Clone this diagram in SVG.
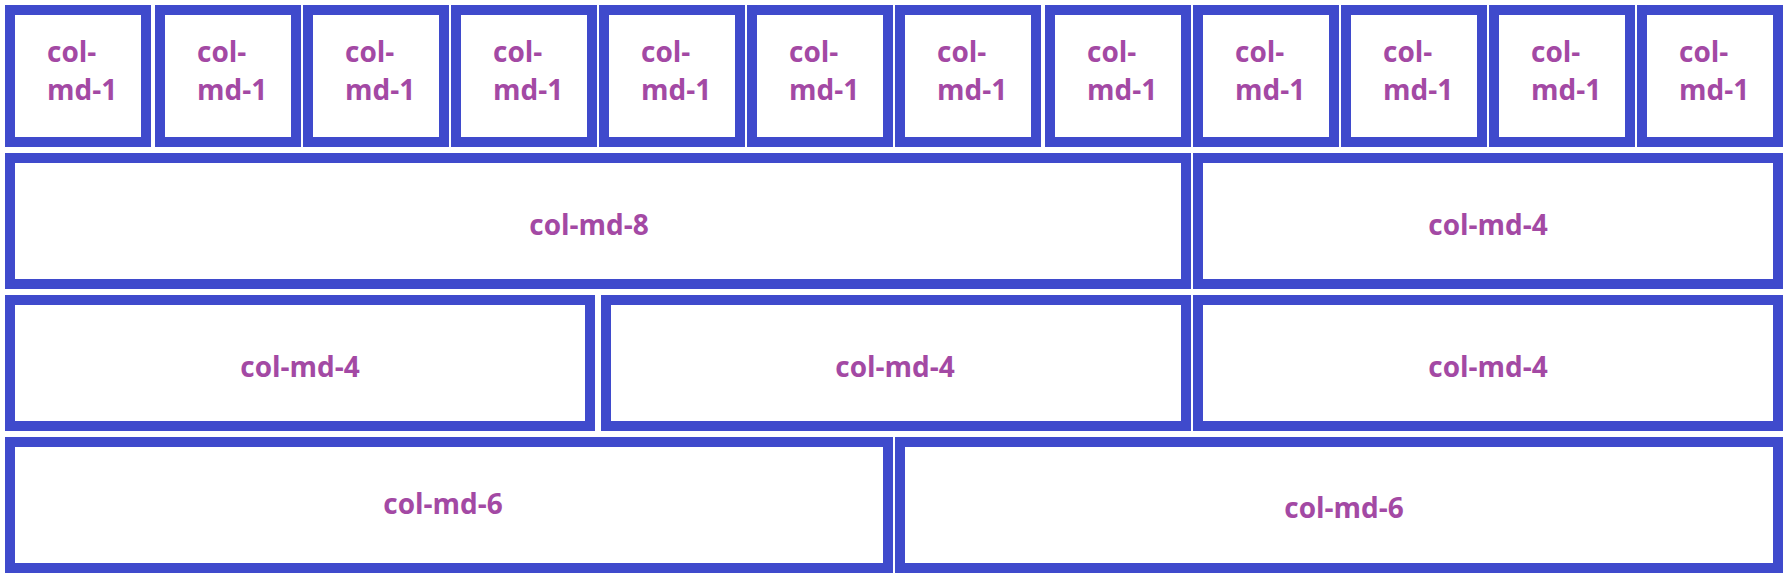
<svg xmlns="http://www.w3.org/2000/svg" width="1787" height="577" viewBox="0 0 1787 577">
<style>
.b{fill:#ffffff;stroke:#3f4acc;stroke-width:10}
.t{font-family:"Open Sans","Liberation Sans",sans-serif;font-weight:700;font-size:28px;fill:#a349a4}
.c{text-anchor:middle}
</style>
<rect width="1787" height="577" fill="#ffffff"/>
<g id="r1c1"><rect class="b" x="10" y="10" width="136" height="132"/><text class="t" x="47" y="62">col-</text><text class="t" x="47" y="100">md-1</text></g>
<g id="r1c2"><rect class="b" x="160" y="10" width="136" height="132"/><text class="t" x="197" y="62">col-</text><text class="t" x="197" y="100">md-1</text></g>
<g id="r1c3"><rect class="b" x="308" y="10" width="136" height="132"/><text class="t" x="345" y="62">col-</text><text class="t" x="345" y="100">md-1</text></g>
<g id="r1c4"><rect class="b" x="456" y="10" width="136" height="132"/><text class="t" x="493" y="62">col-</text><text class="t" x="493" y="100">md-1</text></g>
<g id="r1c5"><rect class="b" x="604" y="10" width="136" height="132"/><text class="t" x="641" y="62">col-</text><text class="t" x="641" y="100">md-1</text></g>
<g id="r1c6"><rect class="b" x="752" y="10" width="136" height="132"/><text class="t" x="789" y="62">col-</text><text class="t" x="789" y="100">md-1</text></g>
<g id="r1c7"><rect class="b" x="900" y="10" width="136" height="132"/><text class="t" x="937" y="62">col-</text><text class="t" x="937" y="100">md-1</text></g>
<g id="r1c8"><rect class="b" x="1050" y="10" width="136" height="132"/><text class="t" x="1087" y="62">col-</text><text class="t" x="1087" y="100">md-1</text></g>
<g id="r1c9"><rect class="b" x="1198" y="10" width="136" height="132"/><text class="t" x="1235" y="62">col-</text><text class="t" x="1235" y="100">md-1</text></g>
<g id="r1c10"><rect class="b" x="1346" y="10" width="136" height="132"/><text class="t" x="1383" y="62">col-</text><text class="t" x="1383" y="100">md-1</text></g>
<g id="r1c11"><rect class="b" x="1494" y="10" width="136" height="132"/><text class="t" x="1531" y="62">col-</text><text class="t" x="1531" y="100">md-1</text></g>
<g id="r1c12"><rect class="b" x="1642" y="10" width="136" height="132"/><text class="t" x="1679" y="62">col-</text><text class="t" x="1679" y="100">md-1</text></g>
<g id="r2c1"><rect class="b" x="10" y="158" width="1176" height="126"/><text class="t c" x="589" y="235">col-md-8</text></g>
<g id="r2c2"><rect class="b" x="1198" y="158" width="580" height="126"/><text class="t c" x="1488" y="235">col-md-4</text></g>
<g id="r3c1"><rect class="b" x="10" y="300" width="580" height="126"/><text class="t c" x="300" y="377">col-md-4</text></g>
<g id="r3c2"><rect class="b" x="606" y="300" width="580" height="126"/><text class="t c" x="895" y="377">col-md-4</text></g>
<g id="r3c3"><rect class="b" x="1198" y="300" width="580" height="126"/><text class="t c" x="1488" y="377">col-md-4</text></g>
<g id="r4c1"><rect class="b" x="10" y="442" width="878" height="126"/><text class="t c" x="443" y="514">col-md-6</text></g>
<g id="r4c2"><rect class="b" x="900" y="442" width="878" height="126"/><text class="t c" x="1344" y="518">col-md-6</text></g>
<g id="connectors"/>
</svg>
